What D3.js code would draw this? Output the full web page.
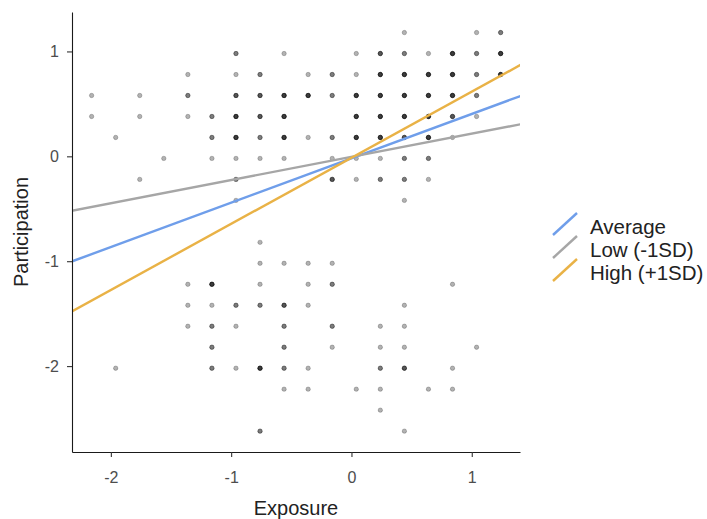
<!DOCTYPE html>
<html>
<head>
<meta charset="utf-8">
<script src="https://cdn.jsdelivr.net/npm/d3@7"></script>
<style>
  body { margin: 0; background: #fff; }
  svg text { font-family: "Liberation Sans", Arial, sans-serif; }
</style>
</head>
<body>
<svg id="chart"></svg>
<script>
// Scatter observations (overlapping points stacked via count)
const exposure = [
  0.44, 1.04, 1.24,
  -0.96, -0.56, 0.04, 0.24, 0.44, 0.64, 0.84, 1.04, 1.24,
  -1.36, -0.96, -0.76, -0.36, -0.16, 0.04, 0.24, 0.44, 0.64, 0.84, 1.04, 1.24,
  -2.16, -1.76, -1.36, -0.96, -0.76, -0.56, -0.36, -0.16, 0.04, 0.24, 0.44, 0.64, 0.84, 1.04,
  -2.16, -1.76, -1.36, -1.16, -0.96, -0.76, -0.56, 0.04, 0.24, 0.44, 0.64, 0.84, 1.04,
  -1.96, -1.16, -0.96, -0.76, -0.56, -0.36, -0.16, 0.04, 0.24, 0.44, 0.64, 0.84,
  -1.56, -1.16, -0.96, -0.76, -0.56, -0.16, 0.04, 0.24, 0.44, 0.64,
  -1.76, -0.96, -0.16, 0.04, 0.24, 0.44, 0.64,
  -0.96, 0.44,
  -0.76,
  -0.76, -0.56, -0.36, -0.16,
  -1.36, -1.16, -0.76, -0.36, -0.16, 0.84,
  -1.36, -1.16, -0.96, -0.76, -0.56, -0.36, 0.44,
  -1.36, -1.16, -0.96, -0.56, -0.16, 0.24, 0.44,
  -1.16, -0.56, -0.16, 0.24, 0.44, 1.04,
  -1.96, -1.16, -0.96, -0.76, -0.56, -0.36, 0.24, 0.44, 0.84,
  -0.56, -0.36, 0.04, 0.24, 0.64, 0.84,
  0.24,
  -0.76, 0.44
];
const participation = [
  1.18, 1.18, 1.18,
  0.98, 0.98, 0.98, 0.98, 0.98, 0.98, 0.98, 0.98, 0.98,
  0.78, 0.78, 0.78, 0.78, 0.78, 0.78, 0.78, 0.78, 0.78, 0.78, 0.78, 0.78,
  0.58, 0.58, 0.58, 0.58, 0.58, 0.58, 0.58, 0.58, 0.58, 0.58, 0.58, 0.58, 0.58, 0.58,
  0.38, 0.38, 0.38, 0.38, 0.38, 0.38, 0.38, 0.38, 0.38, 0.38, 0.38, 0.38, 0.38,
  0.18, 0.18, 0.18, 0.18, 0.18, 0.18, 0.18, 0.18, 0.18, 0.18, 0.18, 0.18,
  -0.02, -0.02, -0.02, -0.02, -0.02, -0.02, -0.02, -0.02, -0.02, -0.02,
  -0.22, -0.22, -0.22, -0.22, -0.22, -0.22, -0.22,
  -0.42, -0.42,
  -0.82,
  -1.02, -1.02, -1.02, -1.02,
  -1.22, -1.22, -1.22, -1.22, -1.22, -1.22,
  -1.42, -1.42, -1.42, -1.42, -1.42, -1.42, -1.42,
  -1.62, -1.62, -1.62, -1.62, -1.62, -1.62, -1.62,
  -1.82, -1.82, -1.82, -1.82, -1.82, -1.82,
  -2.02, -2.02, -2.02, -2.02, -2.02, -2.02, -2.02, -2.02, -2.02,
  -2.22, -2.22, -2.22, -2.22, -2.22, -2.22,
  -2.42,
  -2.62, -2.62
];
const counts = [
  1, 1, 2,
  2, 1, 1, 3, 2, 1, 4, 2, 4,
  1, 1, 2, 1, 2, 1, 4, 4, 4, 4, 2, 4,
  1, 1, 2, 3, 3, 4, 4, 2, 4, 4, 4, 4, 4, 2,
  1, 1, 1, 2, 4, 3, 4, 4, 4, 4, 4, 3, 1,
  1, 2, 4, 2, 4, 1, 2, 4, 4, 3, 4, 1,
  1, 1, 1, 1, 1, 1, 1, 1, 2, 2,
  1, 2, 3, 1, 2, 2, 1,
  1, 1,
  1,
  1, 1, 1, 1,
  1, 4, 1, 1, 2, 1,
  1, 1, 2, 2, 3, 1, 1,
  1, 2, 1, 2, 2, 1, 1,
  2, 2, 1, 1, 1, 1,
  1, 2, 1, 4, 2, 1, 2, 3, 1,
  1, 1, 1, 1, 1, 1,
  1,
  2, 1
];

// Simple slopes (moderator levels)
const lineLabels = ['Average', 'Low (-1SD)', 'High (+1SD)'];
const lineIntercepts = [-0.019, -0.005, -0.014];
const lineSlopes = [0.423, 0.221, 0.630];

const xTicks = [-2, -1, 0, 1];
const yTicks = [1, 0, -1, -2];

class SlopePlot {
  constructor(_config) {
    this.config = {
      parentElement: _config.parentElement,
      containerWidth: _config.containerWidth || 707,
      containerHeight: _config.containerHeight || 519,
      margin: _config.margin || {top: 12, right: 187, bottom: 67, left: 72}
    };
    this.initVis();
  }

  initVis() {
    let vis = this;
    vis.width = vis.config.containerWidth - vis.config.margin.left - vis.config.margin.right;
    vis.height = vis.config.containerHeight - vis.config.margin.top - vis.config.margin.bottom;

    vis.xScale = d3.scaleLinear().domain([-2.323, 1.401]).range([0, vis.width]);
    vis.yScale = d3.scaleLinear().domain([-2.819, 1.376]).range([vis.height, 0]);

    vis.colorScale = d3.scaleOrdinal()
        .domain(lineLabels)
        .range(['#6f9eea', '#a6a6a6', '#e9b246']);

    vis.svg = d3.select(vis.config.parentElement)
        .attr('width', vis.config.containerWidth)
        .attr('height', vis.config.containerHeight);

    vis.svg.append('clipPath').attr('id', 'panel')
      .append('rect')
        .attr('width', vis.width)
        .attr('height', vis.height);

    vis.chart = vis.svg.append('g')
        .attr('transform', `translate(${vis.config.margin.left},${vis.config.margin.top})`);

    vis.renderVis();
  }

  renderVis() {
    let vis = this;

    // expand counts so overlapping points darken
    let pts = [];
    exposure.forEach((x, i) => {
      for (let k = 0; k < counts[i]; k++) pts.push({x: x, y: participation[i]});
    });

    vis.chart.append('g')
        .attr('clip-path', 'url(#panel)')
      .selectAll('circle')
        .data(pts)
      .join('circle')
        .attr('cx', d => vis.xScale(d.x))
        .attr('cy', d => vis.yScale(d.y))
        .attr('r', 2.2)
        .attr('fill', '#000')
        .attr('fill-opacity', 0.3)
        .attr('stroke', '#000')
        .attr('stroke-opacity', 0.3)
        .attr('stroke-width', 0.7);

    const [x0, x1] = vis.xScale.domain();
    vis.chart.append('g')
        .attr('clip-path', 'url(#panel)')
      .selectAll('line')
        .data(lineLabels)
      .join('line')
        .attr('x1', vis.xScale(x0 - 0.1))
        .attr('x2', vis.xScale(x1 + 0.1))
        .attr('y1', (d, i) => vis.yScale(lineIntercepts[i] + lineSlopes[i] * (x0 - 0.1)))
        .attr('y2', (d, i) => vis.yScale(lineIntercepts[i] + lineSlopes[i] * (x1 + 0.1)))
        .attr('stroke', d => vis.colorScale(d))
        .attr('stroke-width', 2.4);

    // Axes
    let xAxisG = vis.chart.append('g')
        .attr('transform', `translate(0,${vis.height})`)
        .call(d3.axisBottom(vis.xScale).tickValues(xTicks).tickFormat(d => String(d))
          .tickSize(5).tickSizeOuter(0).tickPadding(15));
    let yAxisG = vis.chart.append('g')
        .call(d3.axisLeft(vis.yScale).tickValues(yTicks).tickFormat(d => String(d))
          .tickSize(5).tickSizeOuter(0).tickPadding(8));

    [xAxisG, yAxisG].forEach(g => {
      g.select('.domain').attr('stroke', '#1a1a1a').attr('stroke-width', 1.1);
      g.selectAll('.tick line').attr('stroke', '#333').attr('stroke-width', 1.1);
      g.selectAll('.tick text').attr('fill', '#4d4d4d').attr('font-size', 16)
        .attr('font-family', '"Liberation Sans", Arial, sans-serif');
    });

    vis.svg.append('text')
        .attr('x', vis.config.margin.left + vis.width / 2)
        .attr('y', 515)
        .attr('text-anchor', 'middle')
        .attr('font-size', 20)
        .attr('fill', '#222')
        .text('Exposure');

    vis.svg.append('text')
        .attr('transform', `translate(28,${vis.config.margin.top + vis.height / 2}) rotate(-90)`)
        .attr('text-anchor', 'middle')
        .attr('font-size', 20)
        .attr('fill', '#222')
        .text('Participation');

    // Legend
    let legend = vis.svg.append('g').attr('transform', 'translate(553,224)');
    let items = legend.selectAll('g')
        .data(lineLabels)
      .join('g')
        .attr('transform', (d, i) => `translate(0,${i * 23})`);
    items.append('line')
        .attr('x1', 0).attr('y1', 11)
        .attr('x2', 24).attr('y2', -11)
        .attr('stroke', d => vis.colorScale(d))
        .attr('stroke-width', 2.4);
    items.append('text')
        .attr('x', 37)
        .attr('y', 10)
        .attr('font-size', 20.5)
        .attr('fill', '#222')
        .text(d => d);
  }
}

new SlopePlot({parentElement: '#chart'});
</script>
</body>
</html>
